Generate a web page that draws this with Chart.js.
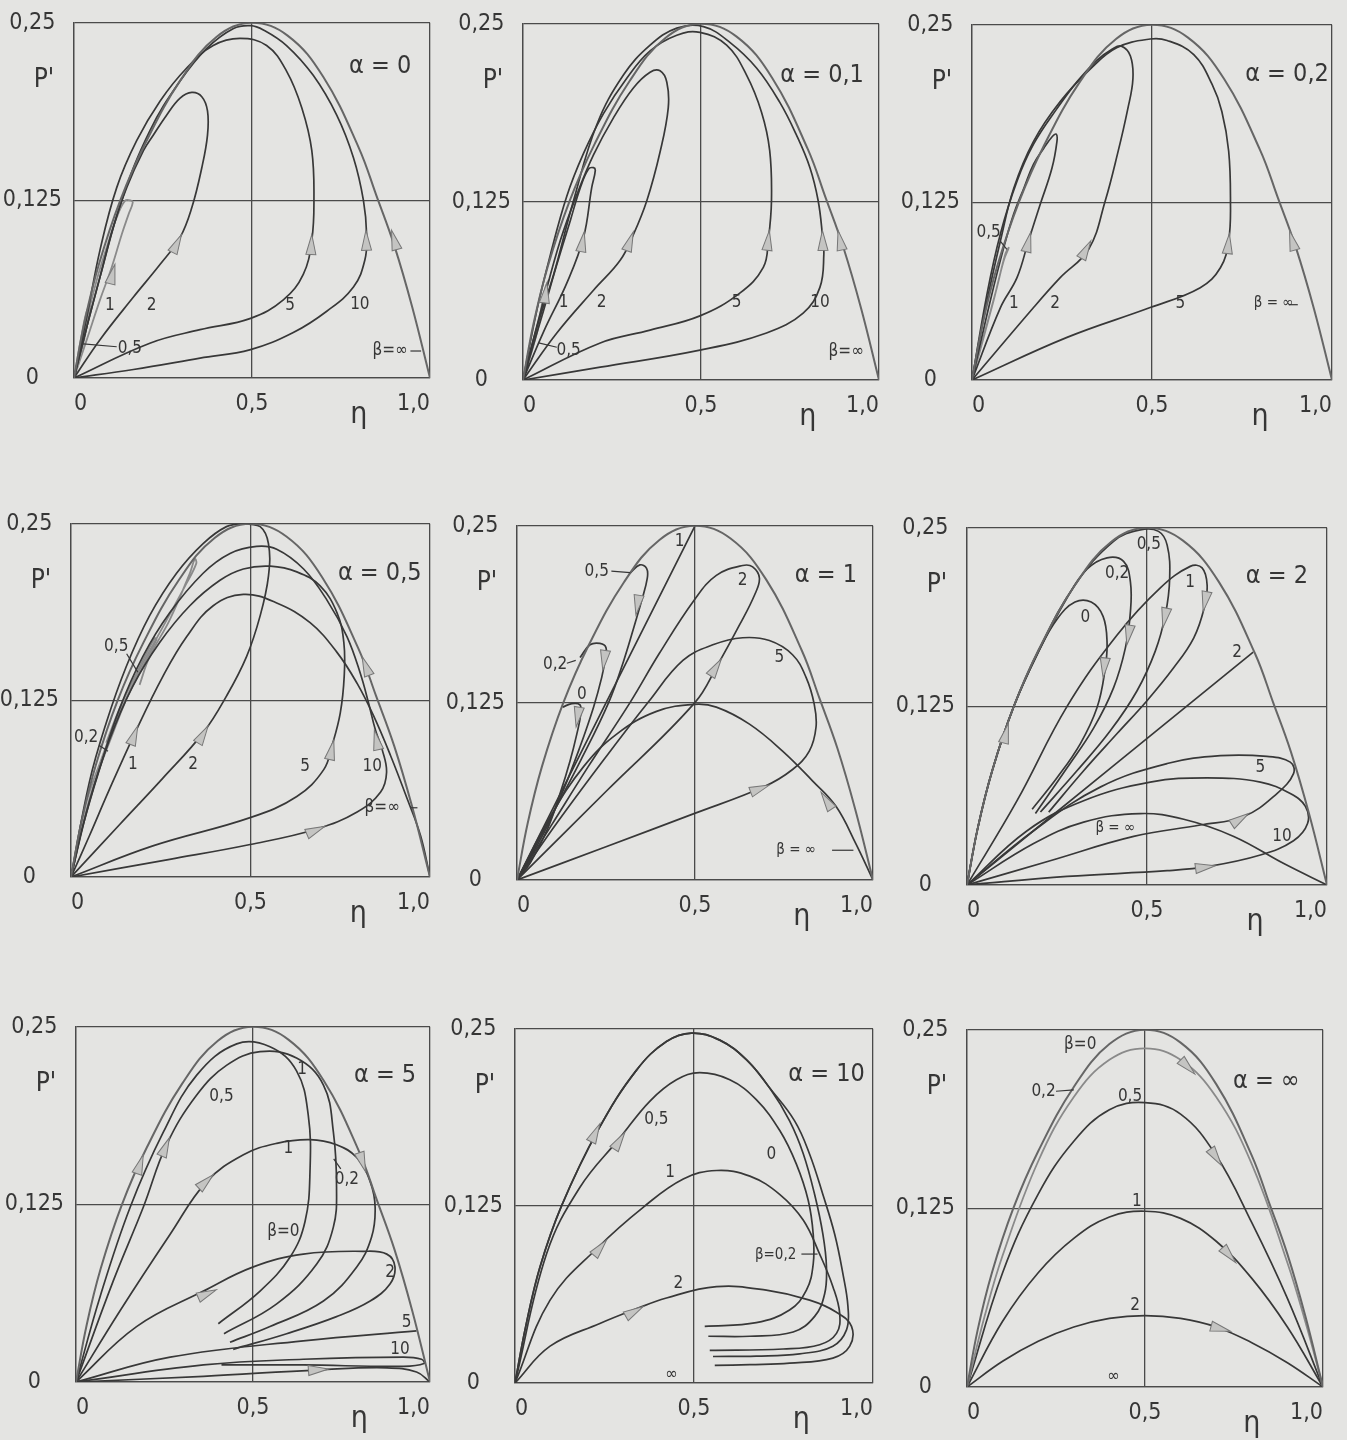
<!DOCTYPE html>
<html>
<head>
<meta charset="utf-8">
<title>P' über η</title>
<script src="https://cdn.jsdelivr.net/npm/chart.js@4.4.1/dist/chart.umd.min.js"></script>
<style>
  html, body { margin: 0; padding: 0; }
  body { width: 1347px; height: 1440px; background: #e4e4e2; position: relative; overflow: hidden; }
  canvas { position: absolute; }
</style>
</head>
<body>
<script>
// ticks shared by all nine panels
var xTicks = [0, 0.5, 1];
var xTickLabels = ['0', '0,5', '1,0'];
var yTicks = [0, 0.125, 0.25];
var yTickLabels = ['0', '0,125', '0,25'];

// outer limiting curve, common to every panel
var envelope = [[0,0],[0.03,0.04],[0.07,0.08],[0.13,0.125],[0.2,0.165],[0.3,0.21],[0.4,0.24],[0.5,0.25],[0.6,0.241],[0.7,0.212],[0.8,0.162],[0.85,0.128],[0.9,0.093],[0.95,0.05],[1,0]];

// ---- alpha = 0 ----
var a0_b10 = [[0,0],[0.167,0.006],[0.354,0.014],[0.496,0.020],[0.616,0.032],[0.710,0.047],[0.785,0.064],[0.817,0.083],[0.822,0.101],[0.813,0.125],[0.785,0.155],[0.738,0.185],[0.672,0.213],[0.597,0.234],[0.532,0.245],[0.496,0.248],[0.448,0.246],[0.373,0.232],[0.298,0.209],[0.213,0.174],[0.134,0.125],[0.073,0.071],[0.036,0.036],[0,0]];
var a0_b5 = [[0,0],[0.213,0.0245],[0.354,0.034],[0.496,0.042],[0.588,0.055],[0.644,0.073],[0.668,0.097],[0.674,0.125],[0.668,0.160],[0.640,0.190],[0.597,0.216],[0.541,0.234],[0.466,0.239],[0.391,0.234],[0.316,0.218],[0.242,0.195],[0.176,0.167],[0.120,0.134],[0.073,0.090],[0.036,0.043],[0,0]];
var a0_b2 = [[0,0],[0.073,0.027],[0.167,0.057],[0.242,0.080],[0.298,0.099],[0.331,0.120],[0.359,0.148],[0.375,0.171],[0.375,0.188],[0.359,0.198],[0.331,0.201],[0.298,0.197],[0.260,0.185],[0.223,0.171],[0.195,0.160],[0.148,0.134],[0.110,0.106],[0.073,0.071],[0.036,0.036],[0,0]];
var a0_b1 = [[0,0],[0.036,0.027],[0.073,0.055],[0.106,0.078],[0.134,0.101],[0.153,0.115],[0.165,0.1235],[0.159,0.125],[0.143,0.1247],[0.120,0.113],[0.092,0.092],[0.064,0.069],[0.036,0.041],[0,0]];
var a0_b05 = [[0,0],[0.026,0.024],[0.043,0.045],[0.047,0.05],[0.037,0.048],[0.022,0.031],[0,0]];
var a0_arrows = [[0.911,0.087,0.892,0.104],[0.822,0.087,0.820,0.104],[0.665,0.085,0.668,0.101],[0.274,0.087,0.302,0.101],[0.101,0.066,0.115,0.080]];
var a0_labels = [['1',0.101,0.051],['2',0.218,0.051],['5',0.607,0.051],['10',0.803,0.052],['0,5',0.157,0.021],['β=∞',0.888,0.019]];
var a0_leaders = [[0.026,0.024,0.12,0.022],[0.945,0.019,0.975,0.019]];

// ---- alpha = 0,1 ----
var a01_b10 = [[0,0],[0.217,0.009],[0.497,0.021],[0.684,0.033],[0.787,0.047],[0.834,0.065],[0.845,0.088],[0.841,0.102],[0.829,0.126],[0.806,0.149],[0.768,0.172],[0.721,0.195],[0.656,0.219],[0.581,0.237],[0.507,0.248],[0.432,0.247],[0.357,0.235],[0.282,0.214],[0.207,0.179],[0.142,0.126],[0.086,0.074],[0.039,0.037],[0,0]];
var a01_b5 = [[0,0],[0.217,0.026],[0.357,0.035],[0.497,0.045],[0.609,0.061],[0.675,0.079],[0.689,0.098],[0.698,0.126],[0.693,0.161],[0.670,0.188],[0.628,0.214],[0.572,0.235],[0.497,0.244],[0.432,0.242],[0.357,0.231],[0.292,0.212],[0.226,0.187],[0.170,0.159],[0.123,0.129],[0.077,0.088],[0.039,0.049],[0,0]];
var a01_b2 = [[0,0],[0.095,0.033],[0.198,0.063],[0.273,0.084],[0.310,0.102],[0.348,0.126],[0.385,0.160],[0.408,0.191],[0.404,0.209],[0.385,0.217],[0.357,0.216],[0.310,0.205],[0.254,0.184],[0.198,0.158],[0.151,0.130],[0.105,0.098],[0.058,0.056],[0,0]];
var a01_b1 = [[0,0],[0.058,0.034],[0.123,0.068],[0.170,0.100],[0.193,0.135],[0.203,0.147],[0.198,0.149],[0.184,0.148],[0.161,0.135],[0.133,0.112],[0.095,0.081],[0.058,0.049],[0,0]];
var a01_b05 = [[0,0],[0.039,0.033],[0.067,0.067],[0.072,0.070],[0.063,0.065],[0.035,0.030],[0,0]];
var a01_arrows = [[0.899,0.088,0.885,0.105],[0.843,0.088,0.841,0.105],[0.684,0.088,0.692,0.105],[0.287,0.088,0.310,0.104],[0.161,0.088,0.172,0.104],[0.062,0.058,0.067,0.068]];
var a01_labels = [['1',0.114,0.054],['2',0.221,0.054],['5',0.6,0.054],['10',0.834,0.054],['0,5',0.128,0.021],['β=∞',0.908,0.02]];
var a01_leaders = [[0.044,0.026,0.095,0.023]];

// ---- alpha = 0,2 ----
var a02_b5 = [[0,0],[0.264,0.030],[0.495,0.051],[0.634,0.065],[0.690,0.079],[0.713,0.098],[0.718,0.126],[0.713,0.161],[0.694,0.189],[0.667,0.208],[0.616,0.229],[0.542,0.239],[0.495,0.240],[0.403,0.234],[0.329,0.219],[0.245,0.196],[0.171,0.168],[0.116,0.135],[0.079,0.098],[0.042,0.056],[0,0]];
var a02_b2 = [[0,0],[0.171,0.051],[0.245,0.072],[0.324,0.092],[0.370,0.126],[0.405,0.160],[0.432,0.190],[0.447,0.212],[0.440,0.228],[0.415,0.235],[0.390,0.233],[0.347,0.225],[0.292,0.210],[0.236,0.191],[0.171,0.166],[0.125,0.140],[0.079,0.103],[0.042,0.061],[0,0]];
var a02_b1 = [[0,0],[0.079,0.051],[0.125,0.072],[0.157,0.098],[0.190,0.124],[0.222,0.149],[0.236,0.168],[0.234,0.173],[0.222,0.171],[0.199,0.163],[0.171,0.152],[0.144,0.135],[0.116,0.117],[0.088,0.093],[0.051,0.056],[0,0]];
var a02_b05 = [[0,0],[0.060,0.056],[0.088,0.084],[0.102,0.093],[0.093,0.089],[0.069,0.065],[0.037,0.035],[0,0]];
var a02_arrows = [[0.903,0.086,0.882,0.105],[0.708,0.086,0.715,0.103],[0.298,0.083,0.330,0.098],[0.148,0.088,0.163,0.104]];
var a02_labels = [['0,5',0.046,0.104],['1',0.116,0.054],['2',0.231,0.054],['5',0.579,0.054],['β = ∞',0.838,0.054]];
var a02_leaders = [[0.078,0.098,0.097,0.092],[0.88,0.053,0.905,0.053]];

// ---- alpha = 0,5 ----
var a05_b10 = [[0,0],[0.275,0.0125],[0.499,0.023],[0.685,0.034],[0.797,0.046],[0.862,0.060],[0.879,0.074],[0.867,0.090],[0.848,0.104],[0.829,0.123],[0.806,0.144],[0.769,0.170],[0.713,0.196],[0.648,0.218],[0.573,0.232],[0.517,0.234],[0.443,0.229],[0.368,0.215],[0.275,0.187],[0.200,0.156],[0.135,0.119],[0.079,0.076],[0.033,0.036],[0,0]];
var a05_b5 = [[0,0],[0.228,0.022],[0.499,0.042],[0.629,0.057],[0.704,0.076],[0.727,0.093],[0.750,0.116],[0.761,0.142],[0.760,0.166],[0.741,0.187],[0.694,0.206],[0.629,0.216],[0.555,0.220],[0.480,0.218],[0.415,0.210],[0.331,0.192],[0.247,0.166],[0.172,0.135],[0.107,0.097],[0.051,0.053],[0,0]];
var a05_b2 = [[0,0],[0.135,0.037],[0.256,0.070],[0.368,0.102],[0.433,0.128],[0.489,0.156],[0.527,0.185],[0.550,0.213],[0.550,0.236],[0.527,0.248],[0.480,0.250],[0.433,0.248],[0.368,0.236],[0.294,0.215],[0.219,0.185],[0.154,0.149],[0.098,0.109],[0.051,0.067],[0,0]];
var a05_b1 = [[0,0],[0.051,0.029],[0.107,0.062],[0.182,0.104],[0.256,0.142],[0.322,0.170],[0.396,0.192],[0.480,0.200],[0.573,0.194],[0.666,0.180],[0.741,0.159],[0.797,0.137],[0.843,0.114],[0.890,0.086],[0.937,0.055],[0.974,0.029],[1,0]];
var a05_b05 = [[0,0],[0.051,0.055],[0.117,0.102],[0.182,0.142],[0.256,0.177],[0.322,0.208],[0.349,0.222],[0.345,0.225],[0.331,0.215],[0.275,0.182],[0.219,0.156],[0.191,0.136]];
var a05_b02 = [[0,0],[0.037,0.048],[0.084,0.083],[0.135,0.116],[0.196,0.147],[0.238,0.168],[0.233,0.169],[0.182,0.144],[0.135,0.119],[0.098,0.095]];
var a05_arrows = [[0.168,0.095,0.186,0.107],[0.354,0.095,0.382,0.107],[0.720,0.083,0.732,0.097],[0.857,0.090,0.845,0.104],[0.662,0.031,0.708,0.036],[0.829,0.144,0.811,0.156]];
var a05_labels = [['0,5',0.126,0.163],['0,2',0.042,0.0985],['1',0.172,0.0796],['2',0.340,0.0796],['5',0.652,0.0785],['10',0.839,0.0785],['β=∞',0.867,0.049]];
var a05_leaders = [[0.155,0.158,0.186,0.145],[0.079,0.093,0.103,0.089],[0.946,0.049,0.965,0.049]];

// ---- alpha = 1 ----
var a1_inf = [[0,0],[0.093,0.0445],[0.187,0.080],[0.280,0.103],[0.392,0.119],[0.499,0.124],[0.560,0.122],[0.653,0.110],[0.746,0.091],[0.830,0.070],[0.896,0.052],[0.951,0.026],[1,0]];
var a1_b5 = [[0,0],[0.25,0.0235],[0.499,0.047],[0.695,0.066],[0.774,0.078],[0.821,0.091],[0.840,0.108],[0.835,0.124],[0.812,0.143],[0.774,0.159],[0.709,0.169],[0.634,0.171],[0.550,0.166],[0.466,0.155],[0.370,0.126],[0.25,0.087],[0.12,0.043],[0,0]];
var a1_b2 = [[0,0],[0.252,0.063],[0.499,0.125],[0.564,0.152],[0.625,0.180],[0.667,0.201],[0.681,0.213],[0.662,0.221],[0.634,0.222],[0.560,0.215],[0.499,0.198],[0.40,0.160],[0.317,0.125],[0.2,0.080],[0.1,0.040],[0,0]];
var a1_b1 = [[0,0],[0.25,0.125],[0.5,0.25]];
var a1_b05 = [[0.317,0.2165],[0.345,0.2224],[0.364,0.22],[0.366,0.213],[0.350,0.197],[0.336,0.185],[0.30,0.155],[0.257,0.125],[0.18,0.085],[0.09,0.042],[0,0]];
var a1_b02 = [[0.177,0.157],[0.205,0.166],[0.233,0.167],[0.250,0.164],[0.247,0.155],[0.238,0.143],[0.215,0.122],[0.177,0.094],[0.131,0.064],[0.075,0.033],[0,0]];
var a1_b0 = [[0.128,0.122],[0.154,0.1245],[0.177,0.1236],[0.179,0.117],[0.168,0.103],[0.149,0.084],[0.121,0.061],[0.084,0.035],[0.037,0.012],[0,0]];
var a1_arrows = [[0.343,0.201,0.334,0.187],[0.247,0.159,0.241,0.148],[0.173,0.119,0.166,0.108],[0.546,0.145,0.574,0.156],[0.667,0.063,0.709,0.067],[0.877,0.053,0.854,0.062]];
var a1_labels = [['1',0.457,0.239],['0,5',0.224,0.218],['2',0.634,0.211],['0,2',0.107,0.152],['0',0.182,0.131],['5',0.737,0.157],['β = ∞',0.784,0.021]];
var a1_leaders = [[0.265,0.218,0.318,0.217],[0.14,0.153,0.165,0.155],[0.885,0.021,0.945,0.021]];

// ---- alpha = 2 ----
var a2_b0 = [[0,0],[0.03,0.04],[0.07,0.08],[0.13,0.125],[0.2,0.164],[0.25,0.186],[0.30,0.198],[0.345,0.198],[0.378,0.188],[0.389,0.170],[0.383,0.150],[0.361,0.124],[0.315,0.099],[0.250,0.075],[0.181,0.053]];
var a2_b02 = [[0,0],[0.03,0.04],[0.07,0.08],[0.13,0.125],[0.2,0.164],[0.278,0.201],[0.333,0.221],[0.389,0.229],[0.435,0.2265],[0.454,0.212],[0.454,0.1915],[0.440,0.166],[0.407,0.138],[0.352,0.110],[0.278,0.082],[0.190,0.050]];
var a2_b05 = [[0,0],[0.03,0.04],[0.07,0.08],[0.13,0.125],[0.2,0.165],[0.3,0.21],[0.407,0.2405],[0.481,0.2485],[0.532,0.2475],[0.556,0.2379],[0.563,0.2147],[0.551,0.1892],[0.523,0.1637],[0.472,0.1358],[0.398,0.1079],[0.306,0.0801],[0.204,0.0511]];
var a2_b1 = [[0,0],[0.139,0.059],[0.278,0.125],[0.417,0.175],[0.537,0.208],[0.620,0.223],[0.653,0.222],[0.667,0.210],[0.659,0.194],[0.630,0.173],[0.574,0.152],[0.500,0.129],[0.417,0.106],[0.324,0.080],[0.227,0.051]];
var a2_b2 = [[0,0],[0.397,0.0815],[0.795,0.163]];
var a2_b5 = [[0,0],[0.231,0.017],[0.463,0.034],[0.648,0.042],[0.769,0.048],[0.861,0.064],[0.907,0.078],[0.898,0.086],[0.833,0.090],[0.704,0.0905],[0.556,0.085],[0.370,0.0685],[0.185,0.038],[0,0]];
var a2_b10 = [[0,0],[0.278,0.006],[0.556,0.010],[0.671,0.013],[0.815,0.021],[0.907,0.031],[0.946,0.043],[0.940,0.055],[0.898,0.064],[0.815,0.072],[0.667,0.075],[0.509,0.072],[0.324,0.059],[0.167,0.038],[0,0]];
var a2_inf = [[0,0],[0.185,0.029],[0.324,0.044],[0.481,0.050],[0.602,0.046],[0.741,0.034],[0.880,0.015],[1,0]];
var a2_arrows = [[0.384,0.159,0.378,0.145],[0.452,0.180,0.444,0.168],[0.553,0.1915,0.544,0.180],[0.665,0.203,0.656,0.1915],[0.648,0.012,0.690,0.0135],[0.745,0.044,0.782,0.050],[0.10,0.098,0.115,0.113]];
var a2_labels = [['0,5',0.505,0.238],['0,2',0.417,0.218],['0',0.329,0.187],['1',0.62,0.212],['2',0.75,0.163],['5',0.815,0.082],['10',0.875,0.034],['β = ∞',0.412,0.040]];
var a2_leaders = [];

// ---- alpha = 5 ----
var a5_b0 = [[0,0],[0.068,0.060],[0.153,0.123],[0.247,0.176],[0.341,0.216],[0.454,0.238],[0.548,0.236],[0.623,0.219],[0.656,0.188],[0.661,0.148],[0.647,0.113],[0.605,0.088],[0.520,0.064],[0.402,0.041]];
var a5_b02 = [[0,0],[0.105,0.071],[0.190,0.123],[0.256,0.167],[0.341,0.202],[0.426,0.223],[0.520,0.2325],[0.623,0.228],[0.699,0.209],[0.727,0.176],[0.736,0.137],[0.727,0.109],[0.680,0.083],[0.567,0.055],[0.418,0.034]];
var a5_b1 = [[0,0],[0.124,0.050],[0.266,0.104],[0.369,0.141],[0.473,0.160],[0.567,0.168],[0.661,0.1706],[0.736,0.167],[0.793,0.158],[0.831,0.141],[0.845,0.123],[0.835,0.102],[0.793,0.081],[0.699,0.057],[0.548,0.039],[0.435,0.028]];
var a5_b2 = [[0,0],[0.171,0.039],[0.360,0.064],[0.501,0.081],[0.642,0.090],[0.812,0.092],[0.878,0.090],[0.901,0.081],[0.887,0.069],[0.831,0.057],[0.736,0.046],[0.595,0.034],[0.444,0.023]];
var a5_b5 = [[0,0],[0.266,0.0175],[0.642,0.029],[0.962,0.036]];
var a5_b10 = [[0,0],[0.360,0.012],[0.642,0.016],[0.925,0.0175],[0.976,0.016],[0.983,0.013],[0.925,0.011],[0.642,0.012],[0.411,0.012]];
var a5_inf = [[0,0],[0.360,0.004],[0.689,0.0086],[0.878,0.010],[0.962,0.007],[1,0]];
var a5_arrows = [[0.17,0.145,0.19,0.16],[0.242,0.159,0.264,0.172],[0.350,0.137,0.388,0.146],[0.360,0.061,0.397,0.065],[0.666,0.0082,0.713,0.0091],[0.802,0.160,0.818,0.148]];
var a5_labels = [['0,5',0.411,0.201],['1',0.639,0.220],['1',0.6,0.164],['0,2',0.765,0.1425],['β=0',0.586,0.106],['2',0.887,0.077],['5',0.934,0.042],['10',0.915,0.023]];
var a5_leaders = [[0.748,0.150,0.728,0.157]];

// ---- alpha = 10 ----
var a10_b0 = [[0,0],[0.03,0.04],[0.07,0.082],[0.13,0.125],[0.233,0.179],[0.34,0.221],[0.423,0.241],[0.493,0.247],[0.572,0.242],[0.647,0.228],[0.712,0.208],[0.767,0.185],[0.805,0.162],[0.837,0.133],[0.860,0.105],[0.870,0.082],[0.865,0.063],[0.837,0.047],[0.777,0.036],[0.656,0.033],[0.540,0.033]];
var a10_b02 = [[0,0],[0.03,0.04],[0.07,0.082],[0.13,0.125],[0.233,0.179],[0.34,0.221],[0.423,0.241],[0.493,0.247],[0.572,0.242],[0.647,0.228],[0.712,0.208],[0.781,0.185],[0.823,0.1615],[0.860,0.133],[0.893,0.105],[0.916,0.077],[0.930,0.054],[0.926,0.0375],[0.888,0.026],[0.795,0.0206],[0.674,0.019],[0.553,0.0187]];
var a10_b05 = [[0,0],[0.088,0.091],[0.181,0.138],[0.293,0.173],[0.377,0.199],[0.451,0.214],[0.516,0.219],[0.600,0.214],[0.674,0.200],[0.740,0.178],[0.786,0.1545],[0.819,0.129],[0.833,0.105],[0.833,0.084],[0.814,0.0655],[0.767,0.0515],[0.674,0.0426],[0.530,0.040]];
var a10_b1 = [[0,0],[0.098,0.0585],[0.233,0.096],[0.358,0.124],[0.470,0.144],[0.563,0.150],[0.656,0.146],[0.740,0.133],[0.805,0.115],[0.851,0.091],[0.888,0.068],[0.907,0.049],[0.898,0.035],[0.851,0.027],[0.749,0.024],[0.544,0.023]];
var a10_b2 = [[0,0],[0.098,0.026],[0.237,0.042],[0.330,0.0515],[0.423,0.060],[0.563,0.068],[0.702,0.0655],[0.823,0.0585],[0.898,0.050],[0.940,0.040],[0.935,0.026],[0.888,0.0176],[0.767,0.014],[0.656,0.013],[0.558,0.0124]];
var a10_arrows = [[0.214,0.171,0.237,0.183],[0.279,0.166,0.307,0.177],[0.223,0.091,0.256,0.101],[0.316,0.048,0.358,0.054]];
var a10_labels = [['0,5',0.395,0.186],['0',0.716,0.1615],['1',0.433,0.1486],['2',0.456,0.070],['β=0,2',0.728,0.090],['∞',0.437,0.006]];
var a10_leaders = [[0.80,0.091,0.845,0.091]];

// ---- alpha = infinity ----
var ainf_b02 = [[0,0],[0.05,0.05],[0.1,0.092],[0.2,0.158],[0.3,0.203],[0.4,0.229],[0.5,0.237],[0.6,0.229],[0.7,0.203],[0.8,0.156],[0.9,0.087],[0.95,0.046],[1,0]];
var ainf_b05 = [[0,0],[0.1,0.08],[0.2,0.135],[0.3,0.172],[0.4,0.194],[0.5,0.199],[0.6,0.191],[0.7,0.162],[0.8,0.115],[0.9,0.062],[1,0]];
var ainf_b1 = [[0,0],[0.1,0.046],[0.2,0.08],[0.3,0.104],[0.4,0.119],[0.5,0.123],[0.6,0.118],[0.7,0.102],[0.8,0.076],[0.9,0.042],[1,0]];
var ainf_b2 = [[0,0],[0.1,0.018],[0.2,0.032],[0.3,0.042],[0.4,0.048],[0.5,0.05],[0.6,0.048],[0.7,0.042],[0.8,0.031],[0.9,0.017],[1,0]];
var ainf_arrows = [[0.60,0.229,0.64,0.219],[0.68,0.168,0.715,0.155],[0.72,0.097,0.755,0.087],[0.695,0.042,0.74,0.039]];
var ainf_labels = [['β=0',0.318,0.2395],['0,2',0.215,0.207],['0,5',0.458,0.2035],['1',0.477,0.130],['2',0.472,0.057],['∞',0.411,0.007]];
var ainf_leaders = [[0.25,0.207,0.30,0.208]];

var face = "'Liberation Sans Narrow', 'DejaVu Sans Condensed', 'Liberation Sans', sans-serif";
var ink = '#363636';
var gridInk = '#4a4a4a';
var tones = {
  env:   { color: '#666666', width: 2 },
  dark:  { color: '#383838', width: 1.7 },
  light: { color: '#8a8a8a', width: 1.8 }
};

var panels = [
  { box: [74, 21, 430, 378], alpha: 'α = 0', alphaAt: [0.86, 0.219],
    curves: [[envelope,'env'],[a0_b10,'dark'],[a0_b5,'dark'],[a0_b2,'dark'],[a0_b1,'light'],[a0_b05,'light']],
    arrows: a0_arrows, labels: a0_labels, leaders: a0_leaders },
  { box: [523, 22, 879, 380], alpha: 'α = 0,1', alphaAt: [0.84, 0.214],
    curves: [[envelope,'env'],[a01_b10,'dark'],[a01_b5,'dark'],[a01_b2,'dark'],[a01_b1,'dark'],[a01_b05,'light']],
    arrows: a01_arrows, labels: a01_labels, leaders: a01_leaders },
  { box: [972, 23, 1332, 380], alpha: 'α = 0,2', alphaAt: [0.875, 0.215],
    curves: [[envelope,'env'],[a02_b5,'dark'],[a02_b2,'dark'],[a02_b1,'dark'],[a02_b05,'light']],
    arrows: a02_arrows, labels: a02_labels, leaders: a02_leaders },
  { box: [71, 522, 430, 877], alpha: 'α = 0,5', alphaAt: [0.86, 0.215],
    curves: [[envelope,'env'],[a05_b10,'dark'],[a05_b5,'dark'],[a05_b2,'dark'],[a05_b1,'dark'],[a05_b05,'light'],[a05_b02,'light']],
    arrows: a05_arrows, labels: a05_labels, leaders: a05_leaders },
  { box: [517, 524, 873, 880], alpha: 'α = 1', alphaAt: [0.868, 0.215],
    curves: [[envelope,'env'],[a1_inf,'dark'],[a1_b5,'dark'],[a1_b2,'dark'],[a1_b1,'dark'],[a1_b05,'dark'],[a1_b02,'dark'],[a1_b0,'dark']],
    arrows: a1_arrows, labels: a1_labels, leaders: a1_leaders },
  { box: [967, 526, 1327, 885], alpha: 'α = 2', alphaAt: [0.861, 0.216],
    curves: [[envelope,'env'],[a2_b0,'dark'],[a2_b02,'dark'],[a2_b05,'dark'],[a2_b1,'dark'],[a2_b2,'dark'],[a2_b5,'dark'],[a2_b10,'dark'],[a2_inf,'dark']],
    arrows: a2_arrows, labels: a2_labels, leaders: a2_leaders },
  { box: [76, 1025, 430, 1382], alpha: 'α = 5', alphaAt: [0.873, 0.216],
    curves: [[envelope,'env'],[a5_b0,'dark'],[a5_b02,'dark'],[a5_b1,'dark'],[a5_b2,'dark'],[a5_b5,'dark'],[a5_b10,'dark'],[a5_inf,'dark']],
    arrows: a5_arrows, labels: a5_labels, leaders: a5_leaders },
  { box: [515, 1027, 873, 1383], alpha: 'α = 10', alphaAt: [0.87, 0.218],
    curves: [[a10_b0,'dark'],[a10_b02,'dark'],[a10_b05,'dark'],[a10_b1,'dark'],[a10_b2,'dark']],
    arrows: a10_arrows, labels: a10_labels, leaders: a10_leaders },
  { box: [967, 1028, 1323, 1387], alpha: 'α = ∞', alphaAt: [0.841, 0.214],
    curves: [[envelope,'env'],[ainf_b02,'light'],[ainf_b05,'dark'],[ainf_b1,'dark'],[ainf_b2,'dark']],
    arrows: ainf_arrows, labels: ainf_labels, leaders: ainf_leaders }
];

// arrowheads, curve labels, leader dashes and axis letters
var marksPlugin = {
  id: 'marks',
  afterDatasetsDraw: function(chart, args, o) {
    var ctx = chart.ctx, xs = chart.scales.x, ys = chart.scales.y, a = chart.chartArea;
    function px(v) { return xs.getPixelForValue(v); }
    function py(v) { return ys.getPixelForValue(v); }
    ctx.save();

    ctx.strokeStyle = ink;
    ctx.lineWidth = 1.2;
    o.leaders.forEach(function(l) {
      ctx.beginPath();
      ctx.moveTo(px(l[0]), py(l[1]));
      ctx.lineTo(px(l[2]), py(l[3]));
      ctx.stroke();
    });

    o.arrows.forEach(function(r) {
      var x1 = px(r[0]), y1 = py(r[1]), x2 = px(r[2]), y2 = py(r[3]);
      var ang = Math.atan2(y2 - y1, x2 - x1);
      ctx.save();
      ctx.translate(x2, y2);
      ctx.rotate(ang);
      ctx.beginPath();
      ctx.moveTo(0, 0);
      ctx.lineTo(-20, -5);
      ctx.lineTo(-20, 5);
      ctx.closePath();
      ctx.fillStyle = '#c4c4c2';
      ctx.fill();
      ctx.strokeStyle = '#777777';
      ctx.lineWidth = 1;
      ctx.stroke();
      ctx.restore();
    });

    ctx.fillStyle = ink;
    ctx.textAlign = 'center';
    ctx.textBaseline = 'middle';
    o.labels.forEach(function(t) {
      var size = t[0].length > 3 ? 15 : 17;
      ctx.font = size + 'px ' + face;
      ctx.fillText(t[0], px(t[1]), py(t[2]));
    });

    ctx.font = '25px ' + face;
    ctx.fillText(o.alpha, px(o.alphaAt[0]), py(o.alphaAt[1]));
    ctx.font = '26px ' + face;
    ctx.fillText("P'", a.left - 30, a.top + 57);
    ctx.font = '30px ' + face;
    ctx.fillText('η', a.left + 0.8 * (a.right - a.left), a.bottom + 37);
    ctx.restore();
  }
};

var padL = 74, padT = 24, padR = 24, padB = 60;

panels.forEach(function(p) {
  var L = p.box[0], T = p.box[1], R = p.box[2], B = p.box[3];
  var w = R - L + padL + padR, h = B - T + padT + padB;
  var cv = document.createElement('canvas');
  cv.width = w;
  cv.height = h;
  cv.style.left = (L - padL) + 'px';
  cv.style.top = (T - padT) + 'px';
  cv.style.width = w + 'px';
  cv.style.height = h + 'px';
  document.body.appendChild(cv);

  var datasets = p.curves.map(function(c) {
    var tone = tones[c[1]];
    return {
      data: c[0].map(function(q) { return { x: q[0], y: q[1] }; }),
      borderColor: tone.color,
      borderWidth: tone.width,
      showLine: true,
      pointRadius: 0,
      tension: 0.4,
      fill: false
    };
  });

  new Chart(cv, {
    type: 'scatter',
    data: { datasets: datasets },
    options: {
      responsive: false,
      animation: false,
      devicePixelRatio: 1,
      layout: { padding: { left: 0, top: padT, right: padR, bottom: 0 } },
      plugins: {
        legend: { display: false },
        tooltip: { enabled: false },
        marks: { arrows: p.arrows, labels: p.labels, leaders: p.leaders, alpha: p.alpha, alphaAt: p.alphaAt }
      },
      scales: {
        x: {
          type: 'linear', min: 0, max: 1,
          afterBuildTicks: function(s) { s.ticks = xTicks.map(function(v) { return { value: v }; }); },
          afterFit: function(s) { s.height = padB; },
          grid: { color: gridInk, lineWidth: 1.3, drawTicks: false },
          border: { color: gridInk, width: 1.3 },
          ticks: {
            align: 'inner', padding: 12, maxRotation: 0, autoSkip: false,
            color: ink, font: { family: face, size: 23 },
            callback: function(v, i) { return xTickLabels[i]; }
          }
        },
        y: {
          type: 'linear', min: 0, max: 0.25,
          afterBuildTicks: function(s) { s.ticks = yTicks.map(function(v) { return { value: v }; }); },
          afterFit: function(s) { s.width = padL; },
          grid: { color: gridInk, lineWidth: 1.3, drawTicks: false },
          border: { color: gridInk, width: 1.3 },
          ticks: {
            crossAlign: 'center', padding: 12, autoSkip: false,
            color: ink, font: { family: face, size: 23 },
            callback: function(v, i) { return yTickLabels[i]; }
          }
        }
      }
    },
    plugins: [marksPlugin]
  });
});
</script>
</body>
</html>
